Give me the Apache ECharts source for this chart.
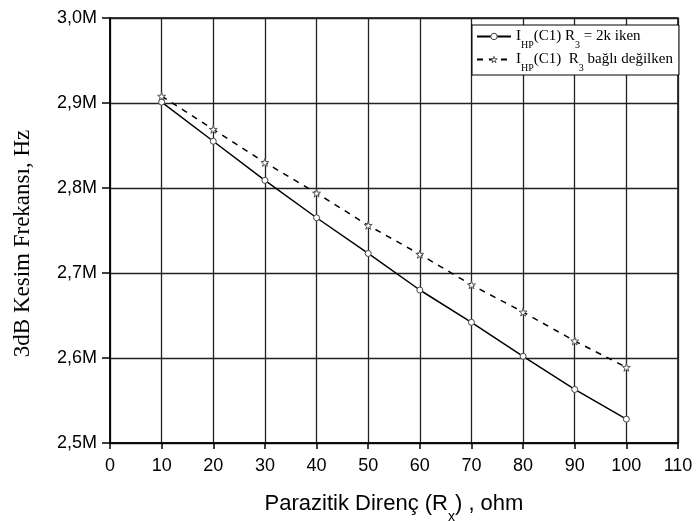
<!DOCTYPE html>
<html>
<head>
<meta charset="utf-8">
<script src="https://cdn.jsdelivr.net/npm/echarts@6/dist/echarts.min.js"></script>
<style>
  html, body { margin: 0; padding: 0; background: #fff; }
  #chart { width: 699px; height: 521px; }
</style>
</head>
<body>
<div id="chart"></div>
<script>
// Parazitik direnç (ohm)
var rx = [10, 20, 30, 40, 50, 60, 70, 80, 90, 100];
// 3dB kesim frekansı (Hz), R3 = 2k
var freqR3 = [2901000, 2855000, 2809000, 2765000, 2723000, 2680000, 2642000, 2602000, 2563000, 2528000];
// 3dB kesim frekansı (Hz), R3 bağlı değil
var freqNoR3 = [2908000, 2869000, 2830000, 2794000, 2756000, 2722000, 2686000, 2654000, 2620000, 2589000];

var yTicks = [2500000, 2600000, 2700000, 2800000, 2900000, 3000000];

var starPath = 'path://M50,0 L61,35 L98,35 L68,57 L79,91 L50,70 L21,91 L32,57 L2,35 L39,35 Z';

function pairs(xs, ys) {
  return xs.map(function (x, i) { return [x, ys[i]]; });
}

var chart = echarts.init(document.getElementById('chart'), null, { renderer: 'canvas' });

var subRich = {
  sub: { fontSize: 10, verticalAlign: 'bottom', padding: [0, 0, -6, 0], fontFamily: 'Liberation Serif', color: '#000' }
};

chart.setOption({
  backgroundColor: '#fff',
  animation: false,
  grid: {
    left: 110, right: 21, top: 18, bottom: 78,
    outerBoundsMode: 'none',
    containLabel: false,
    show: true,
    borderColor: '#000',
    borderWidth: 1.5
  },
  legend: {
    left: 472,
    top: 25,
    orient: 'vertical',
    align: 'left',
    padding: [4, 6, 2, 4],
    itemGap: 2,
    itemWidth: 34,
    itemHeight: 8,
    borderColor: '#000',
    borderWidth: 1,
    backgroundColor: '#fff',
    data: [
      { name: 'a', itemStyle: { color: '#fff', borderColor: '#444', borderWidth: 1 } },
      { name: 'b', itemStyle: { color: '#fff', borderColor: '#555', borderWidth: 1 } }
    ],
    textStyle: {
      fontFamily: 'Liberation Serif',
      fontSize: 15,
      color: '#000',
      rich: subRich
    },
    formatter: function (name) {
      return name === 'a'
        ? 'I{sub|HP}(C1) R{sub|3} = 2k iken'
        : 'I{sub|HP}(C1)  R{sub|3} bağlı değilken';
    }
  },
  xAxis: {
    type: 'value',
    min: 0,
    max: 110,
    interval: 10,
    name: 'Parazitik Direnç (R{sub|x}) , ohm',
    nameLocation: 'middle',
    nameGap: 50,
    nameTextStyle: {
      fontFamily: 'Liberation Sans',
      fontSize: 22,
      color: '#000',
      rich: {
        sub: { fontSize: 14, verticalAlign: 'bottom', padding: [0, 0, -9, 0], fontFamily: 'Liberation Sans', color: '#000' }
      }
    },
    axisLine: { show: true, lineStyle: { color: '#000', width: 1.5 } },
    axisTick: { show: true, length: 6, lineStyle: { color: '#000', width: 1.5 } },
    axisLabel: { fontFamily: 'Liberation Sans', fontSize: 18, color: '#000', margin: 14 },
    splitLine: { show: true, lineStyle: { color: '#222', width: 1.3 } }
  },
  yAxis: {
    type: 'value',
    min: yTicks[0],
    max: yTicks[yTicks.length - 1],
    interval: 100000,
    name: '3dB Kesim Frekansı, Hz',
    nameLocation: 'middle',
    nameGap: 76,
    nameRotate: 90,
    nameTextStyle: { fontFamily: 'Liberation Serif', fontSize: 23, color: '#000', padding: [0, 26, 0, 0] },
    axisLine: { show: true, lineStyle: { color: '#000', width: 1.5 } },
    axisTick: { show: true, length: 8, lineStyle: { color: '#000', width: 1.5 } },
    axisLabel: {
      fontFamily: 'Liberation Sans', fontSize: 18, color: '#000', margin: 13,
      formatter: function (v) { return (v / 1e6).toFixed(1).replace('.', ',') + 'M'; }
    },
    splitLine: { show: true, lineStyle: { color: '#222', width: 1.3 } }
  },
  series: [
    {
      name: 'a',
      type: 'line',
      data: pairs(rx, freqR3),
      symbol: 'circle',
      symbolSize: 6,
      showAllSymbol: true,
      lineStyle: { color: '#000', width: 1.5 },
      itemStyle: { color: '#fff', borderColor: '#444', borderWidth: 1 },
      z: 3
    },
    {
      name: 'b',
      type: 'line',
      data: pairs(rx, freqNoR3),
      symbol: starPath,
      symbolSize: 8,
      showAllSymbol: true,
      lineStyle: { color: '#000', width: 1.5, type: [6, 6] },
      itemStyle: { color: '#fff', borderColor: '#555', borderWidth: 1 },
      z: 3
    }
  ]
});
</script>
</body>
</html>
